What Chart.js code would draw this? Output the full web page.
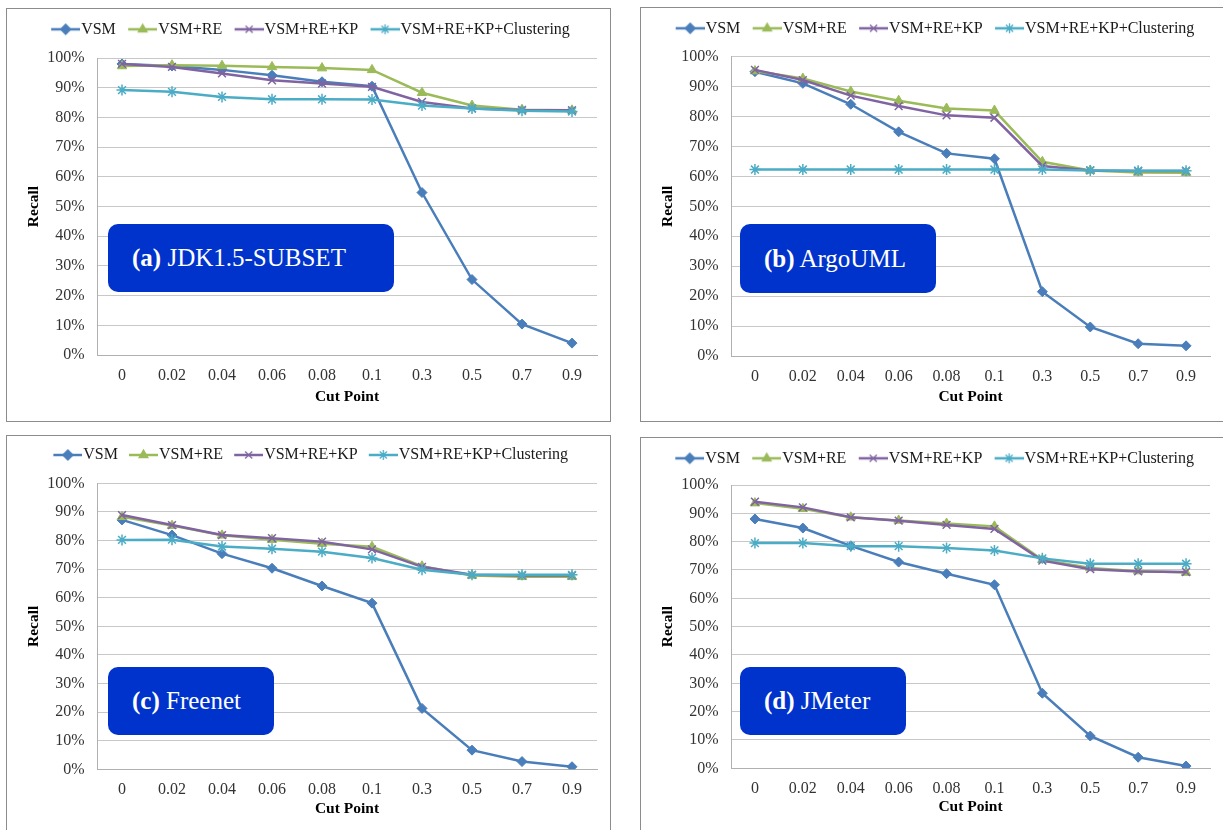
<!DOCTYPE html>
<html>
<head>
<meta charset="utf-8">
<title>Recall vs Cut Point</title>
<script src="https://cdn.jsdelivr.net/npm/chart.js@4.4.0/dist/chart.umd.min.js"></script>
<style>
  html, body { margin: 0; padding: 0; background: #fff; overflow: hidden; }
  body { width: 1223px; height: 830px; position: relative; font-family: "Liberation Serif", "Times New Roman", serif; }
  .frame { position: absolute; border: 1px solid #8c8c8c; box-sizing: border-box; background: #fff; }
  .frame canvas { position: absolute; left: 0; top: 0; }
  .tag { position: absolute; background: #0033cc; color: #fff; border-radius: 10px; font-size: 25px;
         display: flex; align-items: center; padding-left: 24px; box-sizing: border-box; white-space: nowrap; }
</style>
</head>
<body>
<div class="frame" style="left:6px;top:8px;width:605px;height:414px"><canvas id="chartA" width="603" height="412"></canvas></div>
<div class="frame" style="left:640px;top:7px;width:600px;height:415px"><canvas id="chartB" width="588" height="413"></canvas></div>
<div class="frame" style="left:6px;top:435px;width:605px;height:400px"><canvas id="chartC" width="603" height="394"></canvas></div>
<div class="frame" style="left:640px;top:437px;width:600px;height:400px"><canvas id="chartD" width="588" height="392"></canvas></div>

<div class="tag" style="left:108px;top:224px;width:286px;height:68px"><span><b>(a)</b> JDK1.5-SUBSET</span></div>
<div class="tag" style="left:740px;top:224px;width:196px;height:69px"><span><b>(b)</b> ArgoUML</span></div>
<div class="tag" style="left:108px;top:667px;width:166px;height:68px"><span><b>(c)</b> Freenet</span></div>
<div class="tag" style="left:740px;top:667px;width:166px;height:68px"><span><b>(d)</b> JMeter</span></div>

<script>
// categories and series
const cutPoints = ['0', '0.02', '0.04', '0.06', '0.08', '0.1', '0.3', '0.5', '0.7', '0.9'];
const seriesNames = ['VSM', 'VSM+RE', 'VSM+RE+KP', 'VSM+RE+KP+Clustering'];

// (a) JDK1.5-SUBSET, recall in %
const jdkVsm     = [98, 97.3, 96, 94.2, 92, 90.5, 54.7, 25.4, 10.4, 4];
const jdkRe      = [97.3, 97.6, 97.4, 97, 96.6, 96, 88.3, 84, 82.6, 82.4];
const jdkKp      = [98, 97, 94.8, 92.5, 91.4, 90.3, 85.2, 83, 82.5, 82.4];
const jdkCluster = [89.2, 88.6, 86.9, 86.1, 86.1, 86, 84, 83, 82.2, 82];

// (b) ArgoUML
const argoVsm     = [95, 91.1, 84.1, 74.9, 67.7, 65.9, 21.5, 9.7, 4.1, 3.4];
const argoRe      = [95.2, 92.7, 88.4, 85.3, 82.7, 82, 64.9, 62, 61.3, 61.2];
const argoKp      = [95.6, 92.2, 87, 83.5, 80.4, 79.6, 63.5, 62, 61.8, 61.8];
const argoCluster = [62.3, 62.3, 62.3, 62.3, 62.3, 62.3, 62.3, 62, 61.9, 61.9];

// (c) Freenet
const freeVsm     = [87.2, 81.9, 75.4, 70.3, 64.1, 58.1, 21.3, 6.7, 2.7, 0.9];
const freeRe      = [88.3, 85.2, 81.8, 80.3, 78.9, 77.8, 71, 67.8, 67.3, 67.3];
const freeKp      = [88.9, 85.4, 81.9, 80.8, 79.6, 76.9, 70.8, 68, 67.8, 67.8];
const freeCluster = [80.2, 80.3, 77.9, 77.1, 76.1, 73.9, 69.8, 68, 68, 68];

// (d) JMeter
const jmVsm     = [88, 84.8, 78.5, 72.8, 68.7, 64.8, 26.5, 11.4, 3.9, 0.8];
const jmRe      = [93.6, 91.6, 88.6, 87.5, 86.4, 85.4, 73.6, 70.7, 69.6, 69.1];
const jmKp      = [94.1, 92.1, 88.6, 87.4, 85.9, 84.5, 73.3, 70.3, 69.5, 69.3];
const jmCluster = [79.5, 79.5, 78.4, 78.4, 77.8, 76.9, 74.1, 72.2, 72.2, 72.2];

// look of each series (Excel 2007 palette)
const colors = ['#4a7ebb', '#9bbb59', '#8064a2', '#4bacc6'];
const markers = ['rectRot', 'triangle', 'crossRot', 'star'];
const markerSize = [5, 5.5, 5.5, 5.5];

const serif = '"Liberation Serif", "Times New Roman", serif';
Chart.defaults.font.family = serif;

// small line + marker picture for the legend, like Excel
function legendIcon(i) {
  const c = document.createElement('canvas');
  c.width = 36; c.height = 16;
  const ctx = c.getContext('2d');
  ctx.strokeStyle = colors[i];
  ctx.fillStyle = colors[i];
  ctx.lineWidth = 2.5;
  ctx.beginPath();
  ctx.moveTo(7, 8);
  ctx.lineTo(36, 8);
  ctx.stroke();
  ctx.lineWidth = 1.3;
  Chart.helpers.drawPoint(ctx, {pointStyle: markers[i], radius: 5, rotation: 0, borderWidth: 1.3}, 21.5, 8);
  return c;
}
const icons = colors.map((c, i) => legendIcon(i));

// lets the legend take a fixed band at the top, centred where we want it
const legendBand = {
  id: 'legendBand',
  afterInit(chart, args, opts) {
    const legend = chart.legend;
    const fit = legend.fit;
    legend.fit = function () {
      fit.call(this);
      this.height = opts.height;
    };
  },
  afterLayout(chart, args, opts) {
    const legend = chart.legend;
    legend.left = 0;
    legend.right = 2 * opts.center;
    legend.width = legend.right;
  }
};

function drawPanel(id, series, box) {
  const datasets = series.map((values, i) => ({
    label: seriesNames[i],
    data: values,
    borderColor: colors[i],
    backgroundColor: colors[i],
    borderWidth: 2.5,
    pointStyle: markers[i],
    pointRadius: markerSize[i],
    pointBorderWidth: i < 2 ? 1 : 1.5,
    tension: 0,
    order: 4 - i
  }));

  new Chart(document.getElementById(id), {
    type: 'line',
    data: { labels: cutPoints, datasets: datasets },
    plugins: [legendBand],
    options: {
      responsive: false,
      animation: false,
      events: [],
      layout: { padding: { top: 0, left: 0, bottom: 0, right: box.right } },
      plugins: {
        tooltip: { enabled: false },
        legendBand: { height: box.top, center: box.legendX },
        legend: {
          position: 'top',
          labels: {
            usePointStyle: true,
            pointStyleWidth: 22,
            padding: box.legendY - 8,
            color: '#1a1a1a',
            font: { size: 16 },
            generateLabels(chart) {
              const items = Chart.defaults.plugins.legend.labels.generateLabels(chart);
              items.sort((a, b) => a.datasetIndex - b.datasetIndex);
              items.forEach(it => { it.pointStyle = icons[it.datasetIndex]; });
              return items;
            }
          }
        }
      },
      scales: {
        x: {
          type: 'category',
          offset: true,
          grid: { display: false },
          border: { display: true, color: '#b0b0b0' },
          ticks: { color: '#333', font: { size: 16 }, padding: box.tickPad, maxRotation: 0, autoSkip: false },
          title: { display: true, text: 'Cut Point', color: '#000',
                   font: { size: 15.5, weight: 'bold' }, padding: { top: 0, bottom: box.titleBottom - 9.3 } },
          afterFit(scale) { scale.height = box.xHeight; }
        },
        y: {
          min: 0,
          max: 100,
          grid: { color: '#c8c8c8', drawTicks: false },
          border: { display: true, color: '#b0b0b0' },
          ticks: { stepSize: 10, color: '#333', font: { size: 16 }, padding: 12.5,
                   callback: v => v + '%' },
          title: { display: true, text: 'Recall', color: '#000',
                   font: { size: 15.5, weight: 'bold' }, padding: { top: box.titleX - 9.3, bottom: 0 } },
          afterFit(scale) { scale.width = box.left; }
        }
      }
    }
  });
}

drawPanel('chartA', [jdkVsm, jdkRe, jdkKp, jdkCluster],
  { left: 90, top: 49, right: 13, xHeight: 66, legendY: 20.3, legendX: 303.5, titleX: 27, titleBottom: 24.3, tickPad: 3 });
drawPanel('chartB', [argoVsm, argoRe, argoKp, argoCluster],
  { left: 90, top: 48.7, right: 19, xHeight: 65, legendY: 20.3, legendX: 294, titleX: 26.6, titleBottom: 23.7, tickPad: 3.4 });
drawPanel('chartC', [freeVsm, freeRe, freeKp, freeCluster],
  { left: 90, top: 47.3, right: 13, xHeight: 60.7, legendY: 19, legendX: 303.7, titleX: 27, titleBottom: 20.7, tickPad: 2.8 });
drawPanel('chartD', [jmVsm, jmRe, jmKp, jmCluster],
  { left: 90, top: 47, right: 19, xHeight: 61.7, legendY: 20.3, legendX: 293.6, titleX: 26.6, titleBottom: 22.7, tickPad: 2.8 });
</script>
</body>
</html>
